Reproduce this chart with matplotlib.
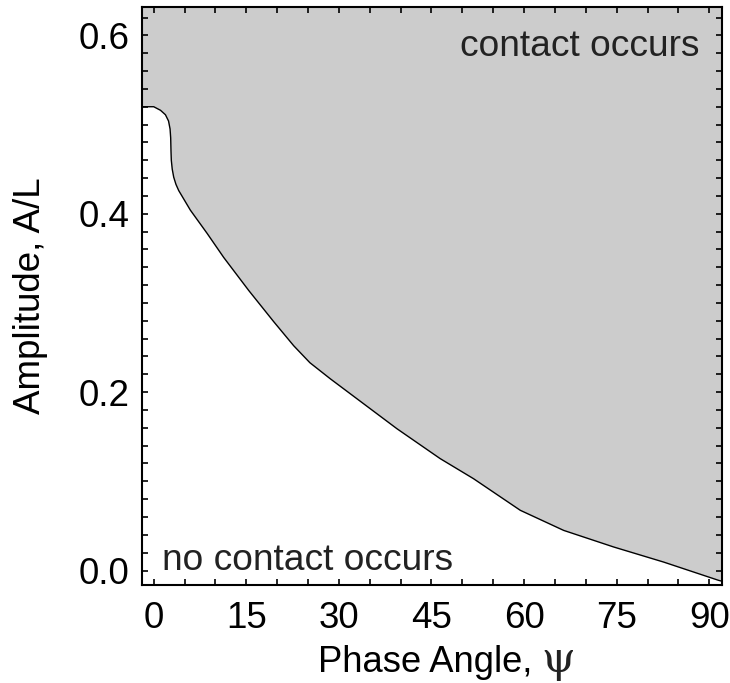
import numpy as np
import matplotlib.pyplot as plt
from matplotlib.ticker import MultipleLocator

plt.rcParams['font.family'] = ['Liberation Sans', 'DejaVu Sans']

# boundary between contact / no contact (phase angle in degrees, A/L)
psi = [-1.9, 0.0, 1.1, 1.9, 2.4, 2.65, 2.75, 2.8, 2.85, 3.0, 3.24, 3.6, 4.05,
       5.94, 8.65, 11.34, 15.39, 19.44, 22.68, 25.3, 28.6, 34.0, 39.4, 46.4,
       51.8, 59.39, 66.41, 74.51, 82.60, 91.51, 92.06]
amp = [0.520, 0.520, 0.516, 0.511, 0.504, 0.495, 0.485, 0.470, 0.460, 0.450,
       0.441, 0.433, 0.426, 0.404, 0.378, 0.351, 0.314, 0.279, 0.252, 0.233,
       0.215, 0.187, 0.159, 0.1255, 0.103, 0.0675, 0.045, 0.0264, 0.0095,
       -0.011, -0.012]

xticks = [0, 15, 30, 45, 60, 75, 90]
yticks = [0.0, 0.2, 0.4, 0.6]

fig = plt.figure(figsize=(7.30, 6.83), dpi=100)
ax = fig.add_axes([0.1945, 0.143, 0.7945, 0.847])

ax.fill_between(psi, amp, 1.0, color='#cccccc', lw=0)
ax.plot(psi, amp, color='black', lw=1.0)

ax.set_xlim(-1.9, 92.06)
ax.set_ylim(-0.0166, 0.632)

ax.set_xticks(xticks)
ax.set_yticks(yticks)
ax.set_yticklabels(['%.1f' % v for v in yticks])
ax.xaxis.set_minor_locator(MultipleLocator(5))
ax.yaxis.set_minor_locator(MultipleLocator(0.02))
ax.tick_params(which='both', direction='in', top=True, right=True,
               length=4, width=1.2)
ax.tick_params(which='major', labelsize=26.5)
ax.tick_params(axis='x', which='major', pad=11)
ax.tick_params(axis='y', which='major', pad=9)
for s in ax.spines.values():
    s.set_linewidth(1.5)

# x label: sans text plus a serif psi
ax.set_xlabel('Phase Angle,', fontsize=26.2, ha='left', va='baseline')
ax.xaxis.set_label_coords(0.303, -0.150)
ax.text(0.689, -0.150, '\u03c8', transform=ax.transAxes, fontsize=31,
        family='DejaVu Serif', ha='left', va='baseline', color='#222222')
ax.set_ylabel('Amplitude, A/L', fontsize=26.5, labelpad=22)

ax.text(0.962, 0.962, 'contact occurs', transform=ax.transAxes,
        fontsize=26.7, ha='right', va='top', color='#222222')
ax.text(0.035, 0.012, 'no contact occurs', transform=ax.transAxes,
        fontsize=26.7, ha='left', va='bottom', color='#222222')

fig.savefig('out.png', dpi=100)
